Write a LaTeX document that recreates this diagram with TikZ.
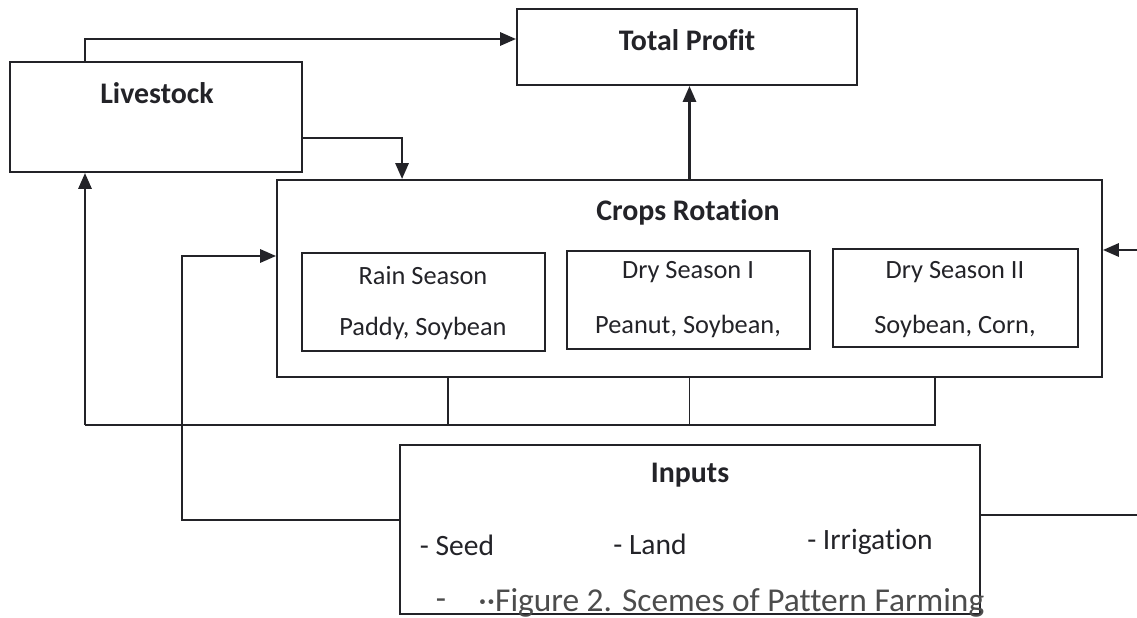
\documentclass[tikz,border=0pt]{standalone}
\usepackage{fontspec}
\setmainfont{Carlito}[Ligatures=NoCommon]
\usetikzlibrary{arrows.meta,positioning,calc}
\definecolor{ink}{RGB}{35,35,40}
\tikzset{
  box/.style={draw=ink,line width=1.2pt,inner sep=0pt},
  ttl/.style={font=\fontsize{17}{19}\selectfont\bfseries,text=ink},
  txt/.style={font=\fontsize{15}{17}\selectfont,text=ink},
  itm/.style={font=\fontsize{16.8}{19}\selectfont,text=ink},
  figtxt/.style={font=\fontsize{19}{21}\selectfont,text=black!70},
  arr/.style={draw=ink,line width=1.3pt,-{Triangle[length=9pt,width=7.5pt]}},
  wire/.style={draw=ink,line width=1.1pt}
}
\begin{document}
\begin{tikzpicture}[x=0.02cm,y=-0.02cm]
\useasboundingbox (0,0) rectangle (1137,618);
% boxes
\node[box,minimum width=6.8cm,minimum height=1.52cm] (profit) at (687,47) {};
\node[box,minimum width=5.84cm,minimum height=2.2cm] (live) at (156,117) {};
\node[box,minimum width=16.5cm,minimum height=3.94cm] (crops) at (689.5,278.5) {};
\node[box,minimum width=4.86cm,minimum height=1.96cm] (rain) at (423.5,302) {};
\node[box,minimum width=4.86cm,minimum height=1.96cm] (dryone) at (688.5,300) {};
\node[box,minimum width=4.9cm,minimum height=1.96cm] (drytwo) at (955.5,298) {};
\node[box,minimum width=11.6cm,minimum height=3.38cm] (inputs) at (690,529.5) {};
% texts
\node[ttl] (profitT) at (687,40) {Total Profit};
\node[ttl] (liveT) at (157,93) {Livestock};
\node[ttl] (cropsT) at (688,212) {Crops Rotation};
\node[txt] (rainT) at (423,276) {Rain Season};
\node[txt] (rainC) at (423,328) {Paddy, Soybean};
\node[txt] (dryoneT) at (688,272) {Dry Season I};
\node[txt] (dryoneC) at (688,326) {Peanut, Soybean,};
\node[txt] (drytwoT) at (955,272) {Dry Season II};
\node[txt] (drytwoC) at (955,326) {Soybean, Corn,};
\node[ttl] (inputsT) at (690,475) {Inputs};
\node[itm] (seed) at (457,545) {- Seed};
\node[itm] (land) at (650,544) {- Land};
\node[itm] (irrig) at (870,542) {- Irrigation};
\node[figtxt] (dash) at (441,604) {-};
\node[figtxt,anchor=west,inner sep=0pt] (figcap) at (478,603) {··Figure 2. Scemes of Pattern Farming};
% free ends
\coordinate (busL) at (85,425);
\coordinate (loopL) at (182,256);
\coordinate (inR) at (1137,250);
\coordinate (outR) at (1137,515);
% connectors
\draw[arr] ([xshift=-1.42cm]live.north) |- ([yshift=0.16cm]profit.west);
\draw[arr] ([yshift=-0.42cm]live.east) -| ([xshift=-5.75cm]crops.north);
\draw[arr] (crops.north) -- (crops.north |- profit.south);
\foreach \dx in {-4.83,0,4.91}
  \draw[wire] ([xshift=\dx cm]crops.south) |- (busL);
\draw[arr] (busL) -- (busL |- live.south);
\draw[arr] ([yshift=0.19cm]inputs.west) -| (loopL) -- (loopL -| crops.west);
\draw[arr] (inR) -- (inR -| crops.east);
\draw[wire] ([yshift=0.29cm]inputs.east) -- (outR);
\end{tikzpicture}
\end{document}
